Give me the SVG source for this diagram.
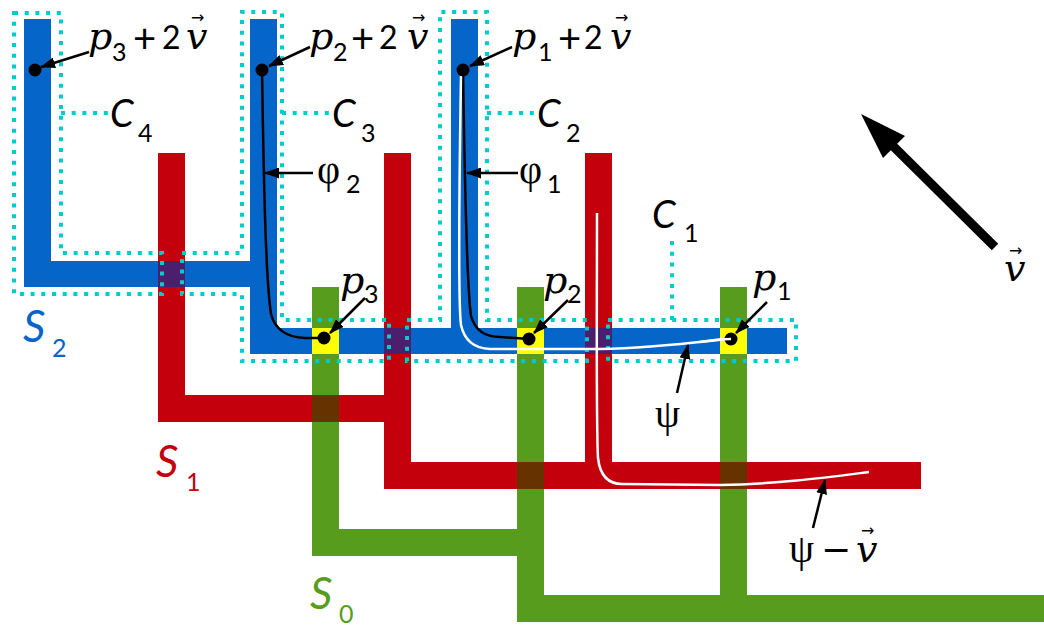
<svg xmlns="http://www.w3.org/2000/svg" width="1044" height="626" viewBox="0 0 1044 626">
<defs>
<marker id="ah" markerUnits="userSpaceOnUse" markerWidth="15" markerHeight="11" refX="14" refY="5.5" orient="auto"><path d="M0,0 L15,5.5 L0,11 Z" fill="#000"/></marker>
</defs>
<style>
.red{fill:#c4000c}
.grn{fill:#589c1e}
.blu{fill:#0565c9}
.pur{fill:#4b1f6e}
.brn{fill:#663300}
.yel{fill:#ffff00}
.dot{fill:none;stroke:#00cccc;stroke-width:4;stroke-dasharray:4 6.7}
.arr{stroke:#000;stroke-width:2.5;fill:none;marker-end:url(#ah)}
.crv{fill:none;stroke:#000;stroke-width:2.5}
.wht{fill:none;stroke:#fff;stroke-width:2.5}
.pt{fill:#000}
.mi{font-family:"DejaVu Serif",serif;font-style:italic;font-size:38px}
.gr{font-family:"Liberation Serif",serif;font-size:40px}
.sn{font-family:Lato,"Liberation Sans",sans-serif;font-style:normal}
.si{font-family:Lato,"Liberation Sans",sans-serif;font-style:italic}
.sub{font-size:25px;font-style:normal}
.vec{font-family:"DejaVu Sans",sans-serif;font-size:16px;font-style:normal}
</style>
<rect width="1044" height="626" fill="#fff"/>
<g id="S1" class="red">
<rect x="158" y="153" width="27" height="269"/>
<rect x="158" y="395" width="253" height="27"/>
<rect x="384" y="153" width="27" height="336"/>
<rect x="384" y="462" width="537" height="27"/>
<rect x="585" y="153" width="27" height="336"/>
<text class="si" x="156" y="477" font-size="44">S<tspan class="sub" x="186" y="491">1</tspan></text>
</g>
<g id="S0" class="grn">
<rect x="312" y="287" width="27" height="269"/>
<rect x="312" y="529" width="232" height="27"/>
<rect x="517" y="287" width="27" height="335"/>
<rect x="517" y="595" width="527" height="27"/>
<rect x="720" y="287" width="27" height="335"/>
<text class="si" x="310" y="609" font-size="44">S<tspan class="sub" x="339" y="623">0</tspan></text>
</g>
<g id="S2" class="blu">
<rect x="24" y="19" width="27" height="268"/>
<rect x="24" y="261" width="253" height="26"/>
<rect x="250" y="19" width="27" height="335"/>
<rect x="250" y="328" width="537" height="26"/>
<rect x="451" y="19" width="27" height="335"/>
<text class="si" x="23" y="342" font-size="44">S<tspan class="sub" x="52" y="357">2</tspan></text>
</g>
<g id="crossings">
<rect class="pur" x="158" y="261" width="27" height="26"/>
<rect class="pur" x="384" y="328" width="27" height="26"/>
<rect class="pur" x="585" y="328" width="27" height="26"/>
<rect class="brn" x="312" y="395" width="27" height="27"/>
<rect class="brn" x="517" y="462" width="27" height="27"/>
<rect class="brn" x="720" y="462" width="27" height="27"/>
<rect class="yel" x="312" y="328" width="27" height="26"/>
<rect class="yel" x="517" y="328" width="27" height="26"/>
<rect class="yel" x="720" y="328" width="27" height="26"/>
</g>
<g id="C4">
<path class="dot" d="M14,13 H61 V253 H162 V294 H14 Z"/>
<path class="dot" d="M61,113 H108"/>
<text class="si" x="110" y="127" font-size="38">C<tspan class="sub" x="138" y="142">4</tspan></text>
</g>
<g id="C3">
<path class="dot" d="M182,253 H242 V12 H282 V320 H389 V361 H242 V294 H182 Z"/>
<path class="dot" d="M282,113 H330"/>
<text class="si" x="332" y="127" font-size="38">C<tspan class="sub" x="361" y="142">3</tspan></text>
</g>
<g id="C2">
<path class="dot" d="M407,320 H440 V12 H487 V320 H587 V361 H407 Z"/>
<path class="dot" d="M487,113 H535"/>
<text class="si" x="537" y="127" font-size="38">C<tspan class="sub" x="566" y="142">2</tspan></text>
</g>
<g id="C1">
<path class="dot" d="M608,320 H796 V361 H608 Z"/>
<path class="dot" d="M672,320 V236"/>
<text class="si" x="652" y="228" font-size="38">C<tspan class="sub" x="684" y="242">1</tspan></text>
</g>
<g id="connectors">
<path class="crv" d="M262,70 C264,200 266,280 271,314 Q277,337 305,338 L324,338"/>
<path class="crv" d="M463,70 C465,200 467,290 471,316 Q477,337 500,337 L529,339"/>
<path class="wht" d="M461,76 C459,200 458,300 461,325 Q466,348 490,349 L600,349 C650,348 690,343 727,339"/>
<path class="wht" d="M597,213 C597,300 596,420 598,458 Q601,484 622,484 L720,485 C780,484 830,477 869,472"/>
<circle class="pt" cx="35" cy="70" r="6.5"/>
<circle class="pt" cx="262" cy="70" r="6.5"/>
<circle class="pt" cx="463" cy="70" r="6.5"/>
<circle class="pt" cx="324" cy="338" r="6.5"/>
<circle class="pt" cx="529" cy="339" r="6.5"/>
<circle class="pt" cx="731" cy="339" r="6.5"/>
<path class="wht" d="M700,342 C712,340 720,339 731,339"/>
<path class="arr" d="M89,52 L41,67"/>
<path class="arr" d="M310,47 L269,66"/>
<path class="arr" d="M512,47 L470,66"/>
<path class="arr" d="M313,173 L265,173"/>
<path class="arr" d="M518,173 L467,173"/>
<path class="arr" d="M365,298 L330,333"/>
<path class="arr" d="M568,300 L534,333"/>
<path class="arr" d="M767,302 L736,333"/>
<path class="arr" d="M677,393 L688,345"/>
<path class="arr" d="M813,528 L825,480"/>
<polygon fill="#000" points="998.2,243.8 897.2,143.8 905,136 861,114 883,158 890.8,150.2 991.8,250.2"/>
</g>
<g id="labels" fill="#000">
<text><tspan class="mi" x="88" y="49">p</tspan><tspan class="sn sub" x="112" y="61">3</tspan><tspan class="sn" font-size="40" x="133" y="53">+</tspan><tspan class="sn" font-size="32" x="162" y="49">2</tspan><tspan class="mi" x="186" y="49">v</tspan><tspan class="vec" x="191" y="23">→</tspan></text>
<text><tspan class="mi" x="309" y="49">p</tspan><tspan class="sn sub" x="333" y="61">2</tspan><tspan class="sn" font-size="40" x="351" y="53">+</tspan><tspan class="sn" font-size="32" x="379" y="49">2</tspan><tspan class="mi" x="407" y="49">v</tspan><tspan class="vec" x="412" y="23">→</tspan></text>
<text><tspan class="mi" x="512" y="49">p</tspan><tspan class="sn sub" x="538" y="61">1</tspan><tspan class="sn" font-size="40" x="558" y="53">+</tspan><tspan class="sn" font-size="32" x="584" y="49">2</tspan><tspan class="mi" x="610" y="49">v</tspan><tspan class="vec" x="615" y="23">→</tspan></text>
<text><tspan class="gr" x="317" y="183">φ</tspan><tspan class="sn sub" x="346" y="193">2</tspan></text>
<text><tspan class="gr" x="519" y="183">φ</tspan><tspan class="sn sub" x="547" y="193">1</tspan></text>
<text><tspan class="mi" x="340" y="293">p</tspan><tspan class="sn sub" x="364" y="303">3</tspan></text>
<text><tspan class="mi" x="543" y="293">p</tspan><tspan class="sn sub" x="567" y="303">2</tspan></text>
<text><tspan class="mi" x="752" y="290">p</tspan><tspan class="sn sub" x="777" y="300">1</tspan></text>
<text class="gr" x="655" y="427">ψ</text>
<text><tspan class="gr" x="789" y="562">ψ</tspan><tspan font-family="DejaVu Sans, sans-serif" font-size="36" x="821" y="562">−</tspan><tspan class="mi" x="856" y="562">v</tspan><tspan class="vec" x="861" y="536">→</tspan></text>
<text><tspan class="mi" x="1004" y="281">v</tspan><tspan class="vec" x="1009" y="256">→</tspan></text>
</g>
</svg>
